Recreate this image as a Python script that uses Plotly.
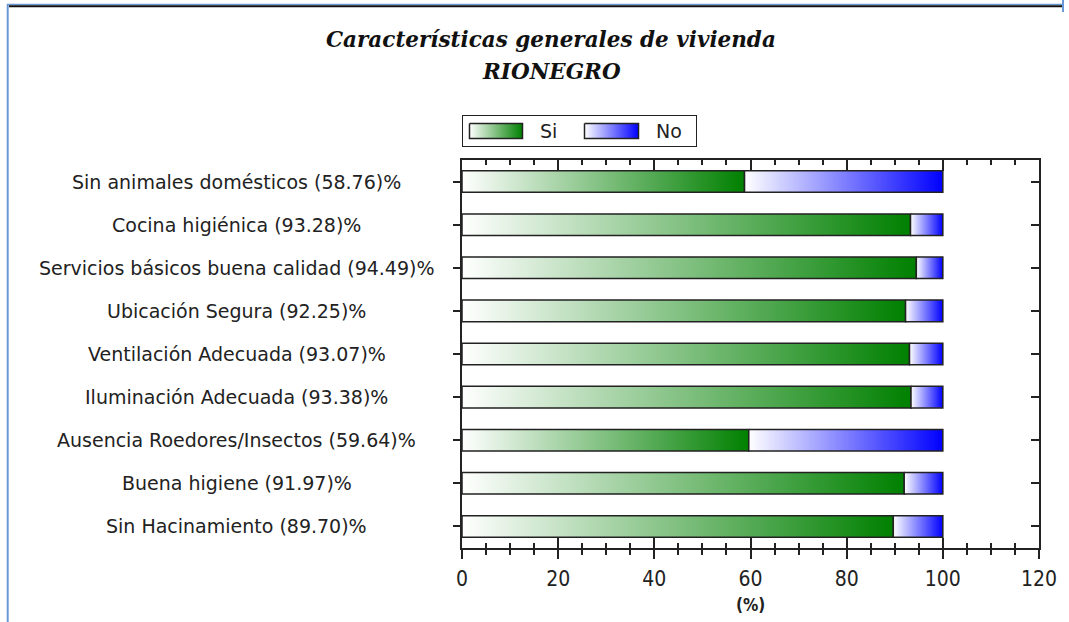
import plotly.graph_objects as go

# ---------------- data ----------------
names = ["Sin animales domésticos", "Cocina higiénica", "Servicios básicos buena calidad",
         "Ubicación Segura", "Ventilación Adecuada", "Iluminación Adecuada",
         "Ausencia Roedores/Insectos", "Buena higiene", "Sin Hacinamiento"]
si_vals = [58.76, 93.28, 94.49, 92.25, 93.07, 93.38, 59.64, 91.97, 89.70]
no_vals = [41.24, 6.72, 5.51, 7.75, 6.93, 6.62, 40.36, 8.03, 10.30]
x_tick_vals = [0, 20, 40, 60, 80, 100, 120]
series_names = ["Si", "No"]
title_lines = ["Características generales de vivienda", "RIONEGRO"]
x_title = "(%)"

labels = [f"{n} ({v:.2f})%" for n, v in zip(names, si_vals)]

# ---------------- geometry helpers (pixels -> paper) ----------------
W, H = 1069, 622
L, R, T, B = 462, 1039, 110, 548
def px2x(px):
    return (px - L) / (R - L)
def py2y(py):
    return (B - py) / (B - T)

INK = "#222222"
GREEN_SCALE = [[0, "#ffffff"], [1, "#008000"]]
BLUE_SCALE = [[0, "#ffffff"], [1, "#0000ff"]]
HW = 0.25  # half bar thickness in category units

fig = go.Figure()

def rect(x0, x1, y0, y1, scale, xaxis="x", yaxis="y", lw=1.5):
    return go.Scatter(
        x=[x0, x1, x1, x0, x0], y=[y0, y0, y1, y1, y0],
        xaxis=xaxis, yaxis=yaxis,
        mode="lines", fill="toself",
        fillgradient=dict(type="horizontal", colorscale=scale),
        line=dict(color=INK, width=lw),
        hoverinfo="skip", showlegend=False)

for i, (s, n) in enumerate(zip(si_vals, no_vals)):
    fig.add_trace(rect(0, s, i - HW, i + HW, GREEN_SCALE))
    fig.add_trace(rect(s, s + n, i - HW, i + HW, BLUE_SCALE))

# dummy traces so the extra axes get drawn
for xa, ya in [("x2", "y"), ("x3", "y"), ("x", "y2")]:
    fig.add_trace(go.Scatter(x=[0], y=[0], xaxis=xa, yaxis=ya, mode="markers",
                             marker=dict(opacity=0), hoverinfo="skip", showlegend=False))

# legend swatches (manual legend with gradient swatches)
fig.add_trace(rect(469.5, 522.5, 123.5, 138.5, GREEN_SCALE, "x4", "y4", 1.5))
fig.add_trace(rect(584.5, 638.5, 123.5, 138.5, BLUE_SCALE, "x4", "y4", 1.5))

NARROW = "DejaVu Sans Condensed, Liberation Sans Narrow, Roboto Condensed, Roboto, sans-serif"
tick_font = dict(family=NARROW, size=21, color=INK)
ydom = [0, py2y(160)]

fig.update_layout(
    width=W, height=H,
    margin=dict(l=L, r=W - R, t=T, b=H - B, pad=0),
    paper_bgcolor="white", plot_bgcolor="white",
    showlegend=False,
    xaxis=dict(domain=[0, 1], range=[0, 120], tickmode="array", tickvals=x_tick_vals,
               ticks="outside", ticklen=9, tickwidth=1.5, tickcolor=INK,
               showline=True, linecolor=INK, linewidth=1.5,
               showgrid=False, zeroline=False, anchor="y",
               tickfont=tick_font, ticklabelstandoff=2,
               minor=dict(tickmode="linear", tick0=0, dtick=5, ticks="outside",
                          ticklen=5, tickwidth=1.5, tickcolor=INK, showgrid=False)),
    xaxis2=dict(overlaying="x", side="bottom", anchor="y", range=[0, 120],
                tickmode="array", tickvals=x_tick_vals,
                ticks="inside", ticklen=10, tickwidth=1.5, tickcolor=INK,
                showticklabels=False, showline=False, showgrid=False, zeroline=False,
                minor=dict(tickmode="linear", tick0=0, dtick=5, ticks="inside",
                           ticklen=5, tickwidth=1.5, tickcolor=INK, showgrid=False)),
    xaxis3=dict(overlaying="x", side="top", anchor="y", range=[0, 120],
                tickmode="array", tickvals=x_tick_vals,
                ticks="inside", ticklen=11, tickwidth=1.5, tickcolor=INK,
                showticklabels=False, showline=True, linecolor=INK, linewidth=1.5,
                showgrid=False, zeroline=False,
                minor=dict(tickmode="linear", tick0=0, dtick=5, ticks="inside",
                           ticklen=5, tickwidth=1.5, tickcolor=INK, showgrid=False)),
    yaxis=dict(domain=ydom, range=[8.5, -0.5], tickmode="array",
               tickvals=list(range(len(names))), showticklabels=False,
               ticks="outside", ticklen=7, tickwidth=1.5, tickcolor=INK,
               showline=True, linecolor=INK, linewidth=1.5,
               showgrid=False, zeroline=False, anchor="x"),
    yaxis2=dict(overlaying="y", side="right", anchor="x", range=[8.5, -0.5],
                tickmode="array", tickvals=list(range(len(names))), showticklabels=False,
                ticks="inside", ticklen=8, tickwidth=1.5, tickcolor=INK,
                showline=True, linecolor=INK, linewidth=1.5,
                showgrid=False, zeroline=False),
    xaxis4=dict(domain=[px2x(462.5), px2x(695.5)], range=[462.5, 695.5], anchor="y4",
                showline=True, mirror=True, linecolor=INK, linewidth=1.2,
                ticks="", showticklabels=False, showgrid=False, zeroline=False),
    yaxis4=dict(domain=[py2y(146), py2y(116)], range=[146, 116], anchor="x4",
                showline=True, mirror=True, linecolor=INK, linewidth=1.2,
                ticks="", showticklabels=False, showgrid=False, zeroline=False),
)

annotations = []
label_font = dict(family="DejaVu Sans, Liberation Sans, sans-serif", size=19, color=INK)
for i, lab in enumerate(labels):
    annotations.append(dict(x=px2x(236.5), y=i, xref="paper", yref="y", text=lab,
                            showarrow=False, xanchor="center", yanchor="middle",
                            font=label_font))
title_font = dict(family="DejaVu Serif, Liberation Serif, serif", size=21.5, color="#111111",
                  weight="bold", style="italic")
annotations.append(dict(x=px2x(551), y=py2y(39), xref="paper", yref="paper",
                        text=title_lines[0], showarrow=False, xanchor="center",
                        yanchor="middle", font=title_font))
annotations.append(dict(x=px2x(551), y=py2y(72), xref="paper", yref="paper",
                        text=title_lines[1], showarrow=False, xanchor="center",
                        yanchor="middle", font=title_font))
leg_font = dict(family="DejaVu Sans, Liberation Sans, sans-serif", size=19, color=INK)
annotations.append(dict(x=548, y=131, xref="x4", yref="y4", text=series_names[0],
                        showarrow=False, xanchor="center", yanchor="middle", font=leg_font))
annotations.append(dict(x=668.5, y=131, xref="x4", yref="y4", text=series_names[1],
                        showarrow=False, xanchor="center", yanchor="middle", font=leg_font))
annotations.append(dict(x=0.5, y=py2y(605), xref="paper", yref="paper", text=x_title,
                        showarrow=False, xanchor="center", yanchor="middle",
                        font=dict(family=NARROW, size=17, color=INK, weight="bold")))
fig.update_layout(annotations=annotations)

# outer window frame
BLUE_FRAME = "#6a98d4"
fig.add_shape(type="line", xref="paper", yref="paper", x0=px2x(7.7), x1=px2x(7.7),
              y0=py2y(640), y1=py2y(4), line=dict(color=BLUE_FRAME, width=2))
fig.add_shape(type="line", xref="paper", yref="paper", x0=px2x(7), x1=px2x(1063),
              y0=py2y(4.5), y1=py2y(4.5), line=dict(color=BLUE_FRAME, width=1.5))
fig.add_shape(type="line", xref="paper", yref="paper", x0=px2x(9), x1=px2x(1062),
              y0=py2y(6.3), y1=py2y(6.3), line=dict(color="#111111", width=2))
fig.add_shape(type="line", xref="paper", yref="paper", x0=px2x(1063), x1=px2x(1063),
              y0=py2y(0), y1=py2y(12), line=dict(color=BLUE_FRAME, width=2))

fig.write_html("out.html", config={"displayModeBar": False},
               post_script="document.body.style.margin='0px';document.body.style.overflow='hidden';")
